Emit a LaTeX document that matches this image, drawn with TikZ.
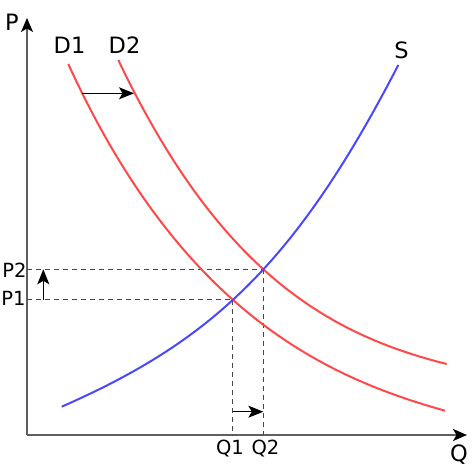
\documentclass[tikz,border=0pt]{standalone}
\usepackage{fontspec}
\setmainfont{DejaVu Sans}
\usetikzlibrary{arrows.meta,intersections}
\definecolor{dred}{RGB}{255,72,72}
\definecolor{sblue}{RGB}{72,72,255}
\definecolor{axisgray}{RGB}{95,95,95}
\definecolor{guidegray}{RGB}{70,70,70}
\begin{document}
\begin{tikzpicture}[x=1pt,y=-1pt,
  axis/.style={draw=axisgray, line width=1.6pt, -{Stealth[length=14pt,width=12pt,inset=3.5pt,color=black]}},
  demand/.style={draw=dred, line width=2pt},
  supply/.style={draw=sblue, line width=2pt},
  guide/.style={draw=guidegray, line width=0.9pt, dash pattern=on 5pt off 4pt},
  shiftarrow/.style={draw=black, line width=1.2pt, -{Stealth[length=15pt,width=12pt,inset=3.5pt]}},
  lab/.style={font=\fontsize{22.5}{26}\selectfont, inner sep=0pt},
  axlab/.style={font=\fontsize{22.5}{26}\selectfont, inner sep=0pt},
  ticklab/.style={font=\fontsize{19.5}{23}\selectfont, inner sep=0pt}]
\useasboundingbox (0,0) rectangle (473,473);
% axes
\coordinate (O) at (27,435);
\coordinate (Ptip) at (27,18);
\coordinate (Qtip) at (467,435);
\draw[axis] (O) -- (Ptip);
\draw[axis] (O) -- (Qtip);
\node[axlab] (P) at (12,22) {P};
\node[axlab] (Q) at (459,455) {Q};
% curves
\path[name path=d1] (68.3,64) .. controls (181.3,311.5) and (325,377.1) .. (445,410.7);
\path[name path=d2] (118.3,60) .. controls (218.3,270) and (326.7,334) .. (446.7,364);
\path[name path=s] (61.7,406.7) .. controls (206.7,342.9) and (293.3,268.7) .. (398.3,65);
\path[name intersections={of=d1 and s, by=E1}];
\path[name intersections={of=d2 and s, by=E2}];
% guides
\draw[guide] (E2 -| O) -- (E2);
\draw[guide] (E1 -| O) -- (E1);
\draw[guide] (E1) -- (E1 |- O);
\draw[guide] (E2) -- (E2 |- O);
\draw[demand] (68.3,64) .. controls (181.3,311.5) and (325,377.1) .. (445,410.7);
\draw[demand] (118.3,60) .. controls (218.3,270) and (326.7,334) .. (446.7,364);
\draw[supply] (61.7,406.7) .. controls (206.7,342.9) and (293.3,268.7) .. (398.3,65);
% labels
\node[lab] (D1) at (69.5,45.5) {D1};
\node[lab] (D2) at (124.5,45.5) {D2};
\node[lab] (S) at (401.5,50) {S};
\node[ticklab] (P2) at (14.5,270) {P2};
\node[ticklab] (P1) at (13.5,298.5) {P1};
\node[ticklab] (Q1) at (230,449) {Q1};
\node[ticklab] (Q2) at (265.5,449) {Q2};
% shift arrows
\coordinate (sa1) at (81.7,93.3);
\coordinate (sa2) at (134,93.3);
\path (E1 -| O) ++(16.3,0) coordinate (pa1);
\path (E2 -| O) ++(16.3,0) coordinate (pa2);
\path (E1 |- O) ++(0,-23.3) coordinate (qa1);
\path (E2 |- O) ++(0,-23.3) coordinate (qa2);
\draw[shiftarrow] (sa1) -- (sa2);
\draw[shiftarrow] (pa1) -- (pa2);
\draw[shiftarrow] (qa1) -- (qa2);
\end{tikzpicture}
\end{document}
